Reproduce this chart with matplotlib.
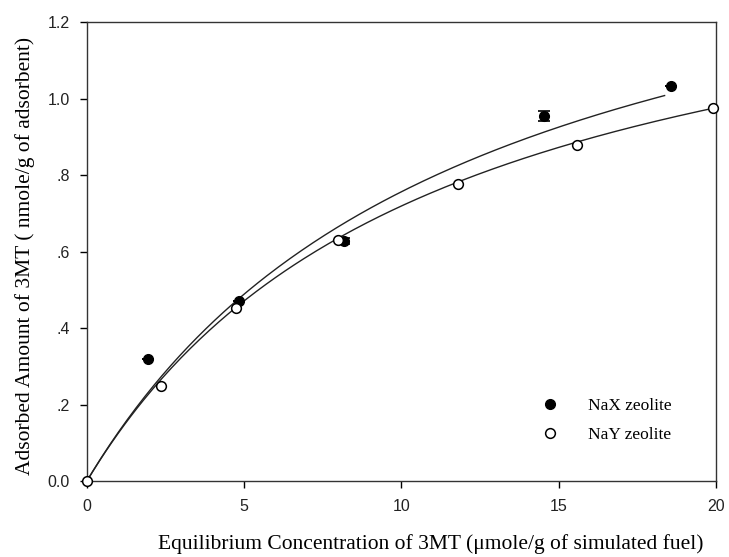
import numpy as np
import matplotlib
matplotlib.use('Agg')
import matplotlib.pyplot as plt
from matplotlib.lines import Line2D

# measured adsorption points
nax_conc = [1.95, 4.84, 8.18, 14.53, 18.57]
nax_amount = [0.319, 0.471, 0.627, 0.955, 1.033]
nax_err = [0.0, 0.0, 0.008, 0.012, 0.0]

nay_conc = [0.0, 2.37, 4.73, 7.99, 11.79, 15.57, 19.9]
nay_amount = [0.0, 0.248, 0.454, 0.630, 0.778, 0.878, 0.976]

# Langmuir fit parameters (qm, K) for each zeolite
nax_qm, nax_k = 1.673, 0.0826
nay_qm, nay_k = 1.52, 0.0899


def langmuir(c, qm, k):
    return qm * k * c / (1 + k * c)


fig = plt.figure(figsize=(7.29, 5.57), dpi=100)
ax = fig.add_axes([0.119, 0.136, 0.863, 0.824])

serif = ['Liberation Serif', 'DejaVu Serif']
sans = ['Liberation Sans', 'DejaVu Sans']

# fitted curves
c1 = np.linspace(0, nax_conc[-1] - 0.2, 200)
c2 = np.linspace(0, nay_conc[-1], 200)
ax.plot(c1, langmuir(c1, nax_qm, nax_k), color='#222222', lw=1.0, zorder=2)
ax.plot(c2, langmuir(c2, nay_qm, nay_k), color='#222222', lw=1.0, zorder=2)

ax.errorbar(nax_conc, nax_amount, yerr=nax_err, fmt='o', color='black',
            ms=7, capsize=4, elinewidth=1, capthick=1.2, zorder=3,
            clip_on=False)
ax.plot(nay_conc, nay_amount, 'o', mfc='white', mec='black', mew=1.1,
        ms=7, zorder=4, clip_on=False, linestyle='none')

ax.set_xlim(0, 20)
ax.set_ylim(0, 1.2)
ax.set_xticks([0, 5, 10, 15, 20])
ax.set_yticks([0, 0.2, 0.4, 0.6, 0.8, 1.0, 1.2])
ax.set_yticklabels(['0.0', '.2', '.4', '.6', '.8', '1.0', '1.2'])
for lab in ax.get_xticklabels() + ax.get_yticklabels():
    lab.set_family(sans)
    lab.set_fontsize(11.5)
    lab.set_color('#222222')
ax.tick_params(direction='out', length=5, width=1, pad=7, top=False, right=False)
ax.tick_params(axis='x', pad=8)
for s in ax.spines.values():
    s.set_linewidth(1.0)
    s.set_color('#333333')

ax.set_xlabel('Equilibrium Concentration of 3MT (\u03bcmole/g of simulated fuel)',
              family=serif, fontsize=15.5)
ax.xaxis.set_label_coords(0.547, -0.115)
ax.set_ylabel('Adsorbed Amount of 3MT ( nmole/g of adsorbent)',
              family=serif, fontsize=15.5)
ax.yaxis.set_label_coords(-0.083, 0.49)

handles = [
    Line2D([], [], marker='o', ls='none', color='black', ms=7),
    Line2D([], [], marker='o', ls='none', mfc='white', mec='black', mew=1.1, ms=7),
]
ax.legend(handles, ['NaX zeolite', 'NaY zeolite'], loc='lower right',
          bbox_to_anchor=(0.955, 0.05), frameon=False,
          prop={'family': serif, 'size': 12.5}, handletextpad=1.2,
          labelspacing=0.7, numpoints=1)

fig.savefig('out.png', dpi=100)
